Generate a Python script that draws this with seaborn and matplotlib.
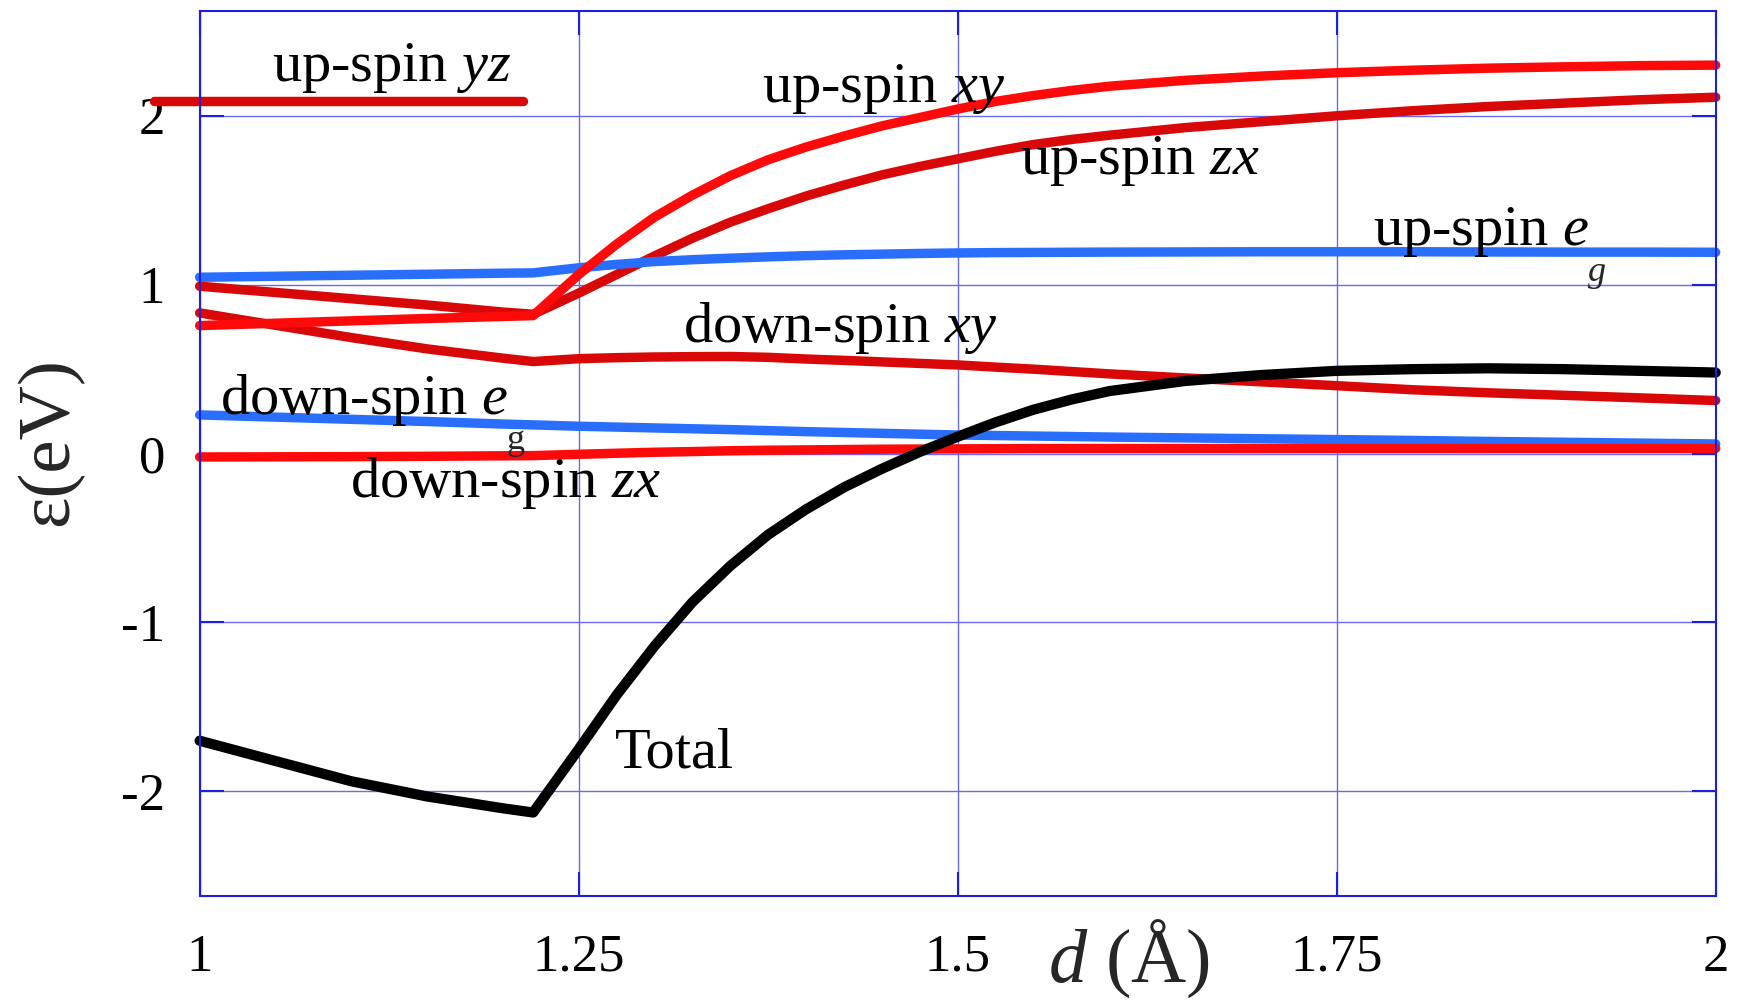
import matplotlib
matplotlib.use("Agg")
import matplotlib.pyplot as plt
import seaborn as sns
import pandas as pd

# ---------------- data ----------------
d = [1.0, 1.05, 1.1, 1.15, 1.2, 1.22, 1.25, 1.275, 1.3, 1.325, 1.35, 1.375, 1.4,
     1.425, 1.45, 1.475, 1.5, 1.525, 1.55, 1.575, 1.6, 1.65, 1.7, 1.75, 1.8,
     1.85, 1.9, 1.95, 2.0]

total   = [-1.70, -1.82, -1.94, -2.03, -2.10, -2.125, -1.75, -1.43, -1.14, -0.88,
           -0.665, -0.48, -0.33, -0.20, -0.09, 0.01, 0.10, 0.185, 0.26, 0.32,
           0.37, 0.43, 0.465, 0.49, 0.50, 0.505, 0.50, 0.49, 0.48]
up_xy   = [0.758, 0.772, 0.786, 0.800, 0.812, 0.817, 1.06, 1.24, 1.40, 1.53,
           1.645, 1.74, 1.815, 1.88, 1.94, 1.99, 2.04, 2.085, 2.12, 2.15,
           2.175, 2.21, 2.235, 2.255, 2.27, 2.282, 2.29, 2.297, 2.30]
up_zx   = [0.991, 0.954, 0.917, 0.880, 0.838, 0.825, 0.95, 1.06, 1.17, 1.275,
           1.37, 1.45, 1.525, 1.59, 1.65, 1.70, 1.745, 1.79, 1.83, 1.86,
           1.885, 1.93, 1.965, 2.00, 2.03, 2.055, 2.075, 2.095, 2.11]
up_eg   = [1.044, 1.050, 1.056, 1.062, 1.068, 1.070, 1.100, 1.120, 1.137, 1.148,
           1.157, 1.165, 1.172, 1.177, 1.181, 1.185, 1.188, 1.190, 1.191, 1.192,
           1.193, 1.194, 1.195, 1.195, 1.195, 1.194, 1.193, 1.193, 1.192]
down_xy = [0.833, 0.760, 0.687, 0.620, 0.565, 0.545, 0.562, 0.568, 0.572, 0.574,
           0.575, 0.570, 0.560, 0.552, 0.543, 0.534, 0.525, 0.512, 0.500, 0.486,
           0.472, 0.448, 0.425, 0.402, 0.378, 0.360, 0.345, 0.330, 0.314]
down_eg = [0.229, 0.216, 0.203, 0.190, 0.175, 0.170, 0.162, 0.157, 0.152, 0.147,
           0.142, 0.136, 0.130, 0.125, 0.120, 0.115, 0.110, 0.107, 0.104, 0.101,
           0.098, 0.093, 0.088, 0.083, 0.078, 0.072, 0.067, 0.062, 0.057]
down_zx = [-0.020, -0.019, -0.018, -0.016, -0.013, -0.012, -0.004, 0.002, 0.008, 0.012,
           0.017, 0.020, 0.022, 0.024, 0.026, 0.027, 0.028, 0.029, 0.030, 0.030,
           0.030, 0.030, 0.030, 0.030, 0.030, 0.030, 0.030, 0.030, 0.030]

d_yz  = [0.97, 1.213]
up_yz = [2.09, 2.09]

x_ticks = [1.0, 1.25, 1.5, 1.75, 2.0]
x_tick_labels = ["1", "1.25", "1.5", "1.75", "2"]
y_ticks = [-2, -1, 0, 1, 2]
y_tick_labels = ["-2", "-1", "0", "1", "2"]

# ---------------- style ----------------
sns.set_theme(style="white")
plt.rcParams["font.family"] = ["Liberation Serif", "DejaVu Serif"]
plt.rcParams["mathtext.fontset"] = "custom"
plt.rcParams["mathtext.rm"] = "Liberation Serif"
plt.rcParams["mathtext.it"] = "Liberation Serif:italic"
plt.rcParams["axes.unicode_minus"] = False

BRIGHT = "#FF0A0A"
DARK = "#D80808"
BLUE = "#2A6EFF"
GRID = "#6A6AEE"
SPINE = "#1E1EDC"

fig = plt.figure(figsize=(17.39, 10.08), dpi=100)
ax = fig.add_axes([0.1148, 0.111, 0.8718, 0.878])

df = pd.DataFrame({"d": d, "total": total, "up_xy": up_xy, "up_zx": up_zx,
                   "up_eg": up_eg, "down_xy": down_xy, "down_eg": down_eg,
                   "down_zx": down_zx})
df_yz = pd.DataFrame({"d": d_yz, "up_yz": up_yz})

common = dict(clip_on=False, solid_capstyle="round", solid_joinstyle="round")
lw = 6.8
sns.lineplot(data=df_yz, x="d", y="up_yz", color=DARK, lw=lw, ax=ax, **common)
sns.lineplot(data=df, x="d", y="down_xy", color=DARK, lw=lw, ax=ax, **common)
sns.lineplot(data=df, x="d", y="up_zx", color=DARK, lw=lw, ax=ax, **common)
sns.lineplot(data=df, x="d", y="up_eg", color=BLUE, lw=lw, ax=ax, **common)
sns.lineplot(data=df, x="d", y="down_eg", color=BLUE, lw=lw, ax=ax, **common)
sns.lineplot(data=df, x="d", y="down_zx", color=BRIGHT, lw=lw, ax=ax, **common)
sns.lineplot(data=df, x="d", y="up_xy", color=BRIGHT, lw=lw, ax=ax, **common)
sns.lineplot(data=df, x="d", y="total", color="black", lw=7.4, ax=ax, **common)

ax.set_xlim(1.0, 2.0)
ax.set_ylim(-2.62, 2.62)
ax.set_xticks(x_ticks)
ax.set_xticklabels(x_tick_labels)
ax.set_yticks(y_ticks)
ax.set_yticklabels(y_tick_labels)

ax.grid(True, color=GRID, lw=1.0)
ax.set_axisbelow(True)
for s in ax.spines.values():
    s.set_color(SPINE)
    s.set_linewidth(1.5)
    s.set_visible(True)

ax.tick_params(axis="both", which="major", direction="in", length=17, width=1.5,
               color=SPINE, labelsize=38, labelcolor="black",
               top=True, right=True, bottom=True, left=True)
ax.tick_params(axis="x", pad=27)
ax.tick_params(axis="y", pad=25)

ax.set_xlabel(r"$\mathit{d}$ (Å)", fontsize=55, va="center")
ax.xaxis.set_label_coords(0.613, -0.071)
ax.set_ylabel("ε(eV)", fontsize=54, va="center")
ax.yaxis.set_label_coords(-0.0987, 0.514)

fs = 42
kw = dict(ha="center", va="baseline", fontsize=fs, color="black")
ax.text(1.127, 2.208, r"up-spin $\mathit{yz}$", **kw)
ax.text(1.451, 2.08, r"up-spin $\mathit{xy}$", **kw)
ax.text(1.620, 1.656, r"up-spin $\mathit{zx}$", **kw)
ax.text(1.845, 1.236, r"up-spin $\mathit{e}$", **kw)
ax.text(1.916, 1.024, "g", ha="left", va="baseline", fontsize=26, style="italic")
ax.text(1.423, 0.66, r"down-spin $\mathit{xy}$", **kw)
ax.text(1.108, 0.235, r"down-spin $\mathit{e}$", **kw)
ax.text(1.2026, 0.028, "g", ha="left", va="baseline", fontsize=26)
ax.text(1.202, -0.255, r"down-spin $\mathit{zx}$", **kw)
ax.text(1.313, -1.857, "Total", **kw)

fig.savefig("out.png", dpi=100, facecolor="white")
